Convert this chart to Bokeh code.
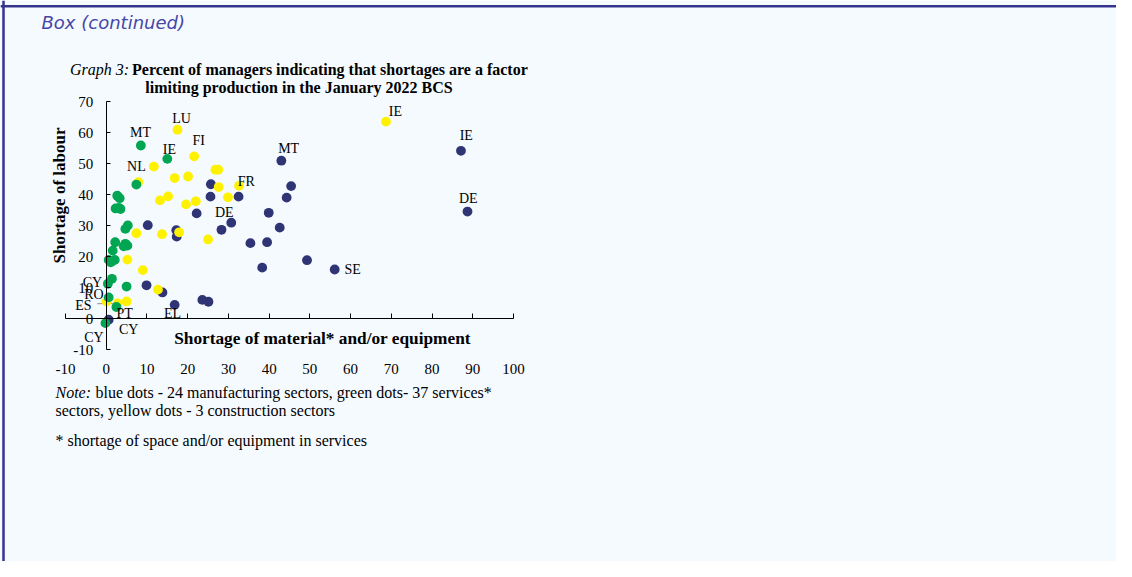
import numpy as np
from bokeh.plotting import figure
from bokeh.models import LinearAxis, FixedTicker, Label, Range1d, ColumnDataSource, LabelSet, Span
from bokeh.core.properties import value
from bokeh.embed import file_html
from bokeh.resources import INLINE

# ---------------- data ----------------
# manufacturing sectors (blue dots)
blue_x = [43.0, 45.4, 44.3, 42.6, 39.9, 39.5, 38.3, 35.4, 32.5, 30.7, 28.3, 25.7, 25.6, 22.2,
          17.2, 17.3, 10.2, 9.9, 13.8, 16.8, 23.6, 25.1, 0.6, 87.1, 88.7, 49.3, 56.1]
blue_y = [51.0, 42.8, 39.1, 29.4, 34.2, 24.7, 16.5, 24.4, 39.4, 31.0, 28.7, 43.4, 39.4, 34.0,
          28.6, 26.5, 30.2, 10.8, 8.5, 4.5, 6.1, 5.5, -0.3, 54.2, 34.6, 18.9, 15.9]
# construction sectors (yellow dots)
yellow_x = [17.5, 21.6, 11.7, 7.9, 16.8, 20.1, 26.8, 27.5, 27.6, 13.2, 15.2, 19.6, 22.0,
            29.9, 32.6, 7.4, 13.7, 17.9, 25.0, 5.2, 9.0, 12.7, 0.1, 2.8, 5.0, 68.7]
yellow_y = [61.0, 52.4, 49.1, 44.1, 45.4, 45.9, 48.1, 48.1, 42.5, 38.2, 39.5, 36.9, 37.9,
            39.2, 42.9, 27.6, 27.3, 27.9, 25.6, 19.1, 15.7, 9.4, 5.6, 5.0, 5.6, 63.6]
# services sectors (green dots)
green_x = [8.5, 15.0, 7.4, 2.7, 3.3, 2.3, 3.1, 3.5, 5.3, 4.7, 4.7, 5.2, 4.3, 2.2, 1.6,
           0.6, 1.5, 2.1, 1.1, 1.4, 0.4, 5.0, 0.6, 2.5, -0.2]
green_y = [55.9, 51.6, 43.3, 39.7, 38.9, 35.6, 35.8, 35.4, 30.1, 29.0, 24.2, 23.6, 23.4,
           24.7, 22.0, 19.0, 18.6, 19.0, 18.2, 12.9, 11.3, 10.4, 6.9, 3.8, -1.4]

# country labels next to dots
lab_text = ["LU", "FI", "MT", "IE", "NL", "MT", "FR", "DE", "IE", "IE", "DE", "SE",
            "EL", "PT", "CY", "CY", "CY", "RO", "ES"]
lab_x = [18.5, 22.7, 8.4, 15.5, 7.4, 44.8, 34.4, 29.0, 71.0, 88.4, 88.9, 60.5,
         16.3, 4.5, 5.5, -3.0, -3.4, -3.0, -5.6]
lab_y = [64.6, 57.5, 60.1, 54.6, 49.1, 54.9, 44.3, 34.3, 66.9, 59.1, 38.8, 15.9,
         1.7, 1.7, -3.5, -6.1, 11.8, 7.7, 4.3]

x_ticks = [-10, 0, 10, 20, 30, 40, 50, 60, 70, 80, 90, 100]
y_ticks = [-10, 0, 10, 20, 30, 40, 50, 60, 70]
x_lo, x_hi = -10, 100
y_lo, y_hi = -10, 70

# ---------------- styles / layout ----------------
BG = "#F5FAFE"
FRAME_BLUE = "#34348F"
C_BLUE = "#2E3474"
C_GREEN = "#00A651"
C_YELLOW = "#FFF200"
SERIF = "Liberation Serif"

W, H = 1116, 561
OX, OY = 0, 0                      # picture position of the canvas
PL, PR, PT, PB = 65, 513, 101.3, 349.3   # picture px of the chart's data box

sx = (PR - PL) / (x_hi - x_lo)     # px per unit
sy = (PB - PT) / (y_hi - y_lo)
xr = Range1d(x_lo - (PL - OX) / sx, x_lo + (OX + W - PL) / sx)
yr = Range1d(y_lo - (OY + H - PB) / sy, y_hi + (PT - OY) / sy)

p = figure(width=W, height=H, x_range=xr, y_range=yr,
           output_backend="svg", toolbar_location=None,
           x_axis_type=None, y_axis_type=None,
           min_border_left=0, min_border_right=0, min_border_top=0, min_border_bottom=0,
           background_fill_color=BG, border_fill_color=BG, outline_line_color=None)


def dx(px):
    return x_lo + (px - PL) / sx


def dy(py):
    return y_hi - (py - PT) / sy


# page frame lines (top and left)
p.add_layout(Span(location=dy(5.8), dimension="width", line_color=FRAME_BLUE, line_width=2.5))
p.add_layout(Span(location=dx(3.0), dimension="height", line_color=FRAME_BLUE, line_width=2.5))

# axes
xax = LinearAxis(ticker=FixedTicker(ticks=x_ticks), fixed_location=0, bounds=(x_lo, x_hi),
                 axis_line_color="black", axis_line_width=1,
                 major_tick_line_color="black", major_tick_in=5, major_tick_out=0,
                 minor_tick_line_color=None, major_label_standoff=45,
                 major_label_text_font=SERIF, major_label_text_font_size="15px",
                 major_label_text_color="black",
                 major_label_overrides={t: str(t) for t in x_ticks})
p.add_layout(xax, "below")
yax = LinearAxis(ticker=FixedTicker(ticks=y_ticks), fixed_location=0, bounds=(y_lo, y_hi),
                 axis_line_color="black", axis_line_width=1,
                 major_tick_line_color="black", major_tick_in=4, major_tick_out=0,
                 minor_tick_line_color=None, major_label_standoff=13,
                 major_label_text_font=SERIF, major_label_text_font_size="15px",
                 major_label_text_color="black",
                 major_label_overrides={t: str(t) for t in y_ticks})
p.add_layout(yax, "left")

# leader line ES label -> dot
p.segment(x0=[lab_x[-1] + 3.4], y0=[lab_y[-1] + 0.6], x1=[yellow_x[23]], y1=[yellow_y[23]],
          line_color="#A0A0A0", line_width=1.2)

# dots
p.scatter(blue_x, blue_y, size=9.8, fill_color=C_BLUE, line_color=None)
p.scatter(yellow_x, yellow_y, size=9.8, fill_color=C_YELLOW, line_color=None)
p.scatter(green_x, green_y, size=9.8, fill_color=C_GREEN, line_color=None)

src = ColumnDataSource(dict(x=lab_x, y=lab_y, t=lab_text))
p.add_layout(LabelSet(x="x", y="y", text="t", source=src, text_align="center",
                      text_baseline="middle", text_font=value(SERIF),
                      text_font_size="14px", text_color="black"))


def txt(s, px, py, size, align="left", style="normal", color="black", font=SERIF, angle=0.0):
    p.add_layout(Label(x=dx(px), y=dy(py), text=s, text_align=align, text_baseline="middle",
                       text_font=font, text_font_size=f"{size}px", text_font_style=style,
                       text_color=color, angle=angle))


txt("Box (continued)", 41, 22, 18, style="italic", color="#4646A6", font="DejaVu Sans")
txt("Graph 3:", 69.5, 69, 16, style="italic")
txt("Percent of managers indicating that shortages are a factor", 131.5, 69, 16, style="bold")
txt("limiting production in the January 2022 BCS", 298.5, 87, 16, align="center", style="bold")
txt("Shortage of labour", 58.5, 195, 17, align="center", style="bold", angle=np.pi / 2)
txt("Shortage of material* and/or equipment", 322, 337.5, 17.3, align="center", style="bold")
txt("Note:", 55, 391.5, 16, style="italic")
txt("blue dots - 24 manufacturing sectors, green dots- 37 services*", 95, 391.5, 16)
txt("sectors, yellow dots - 3 construction sectors", 55, 409.5, 16)
txt("* shortage of space and/or equipment in services", 55, 440, 16)

open("out.html", "w").write(file_html(p, INLINE))
